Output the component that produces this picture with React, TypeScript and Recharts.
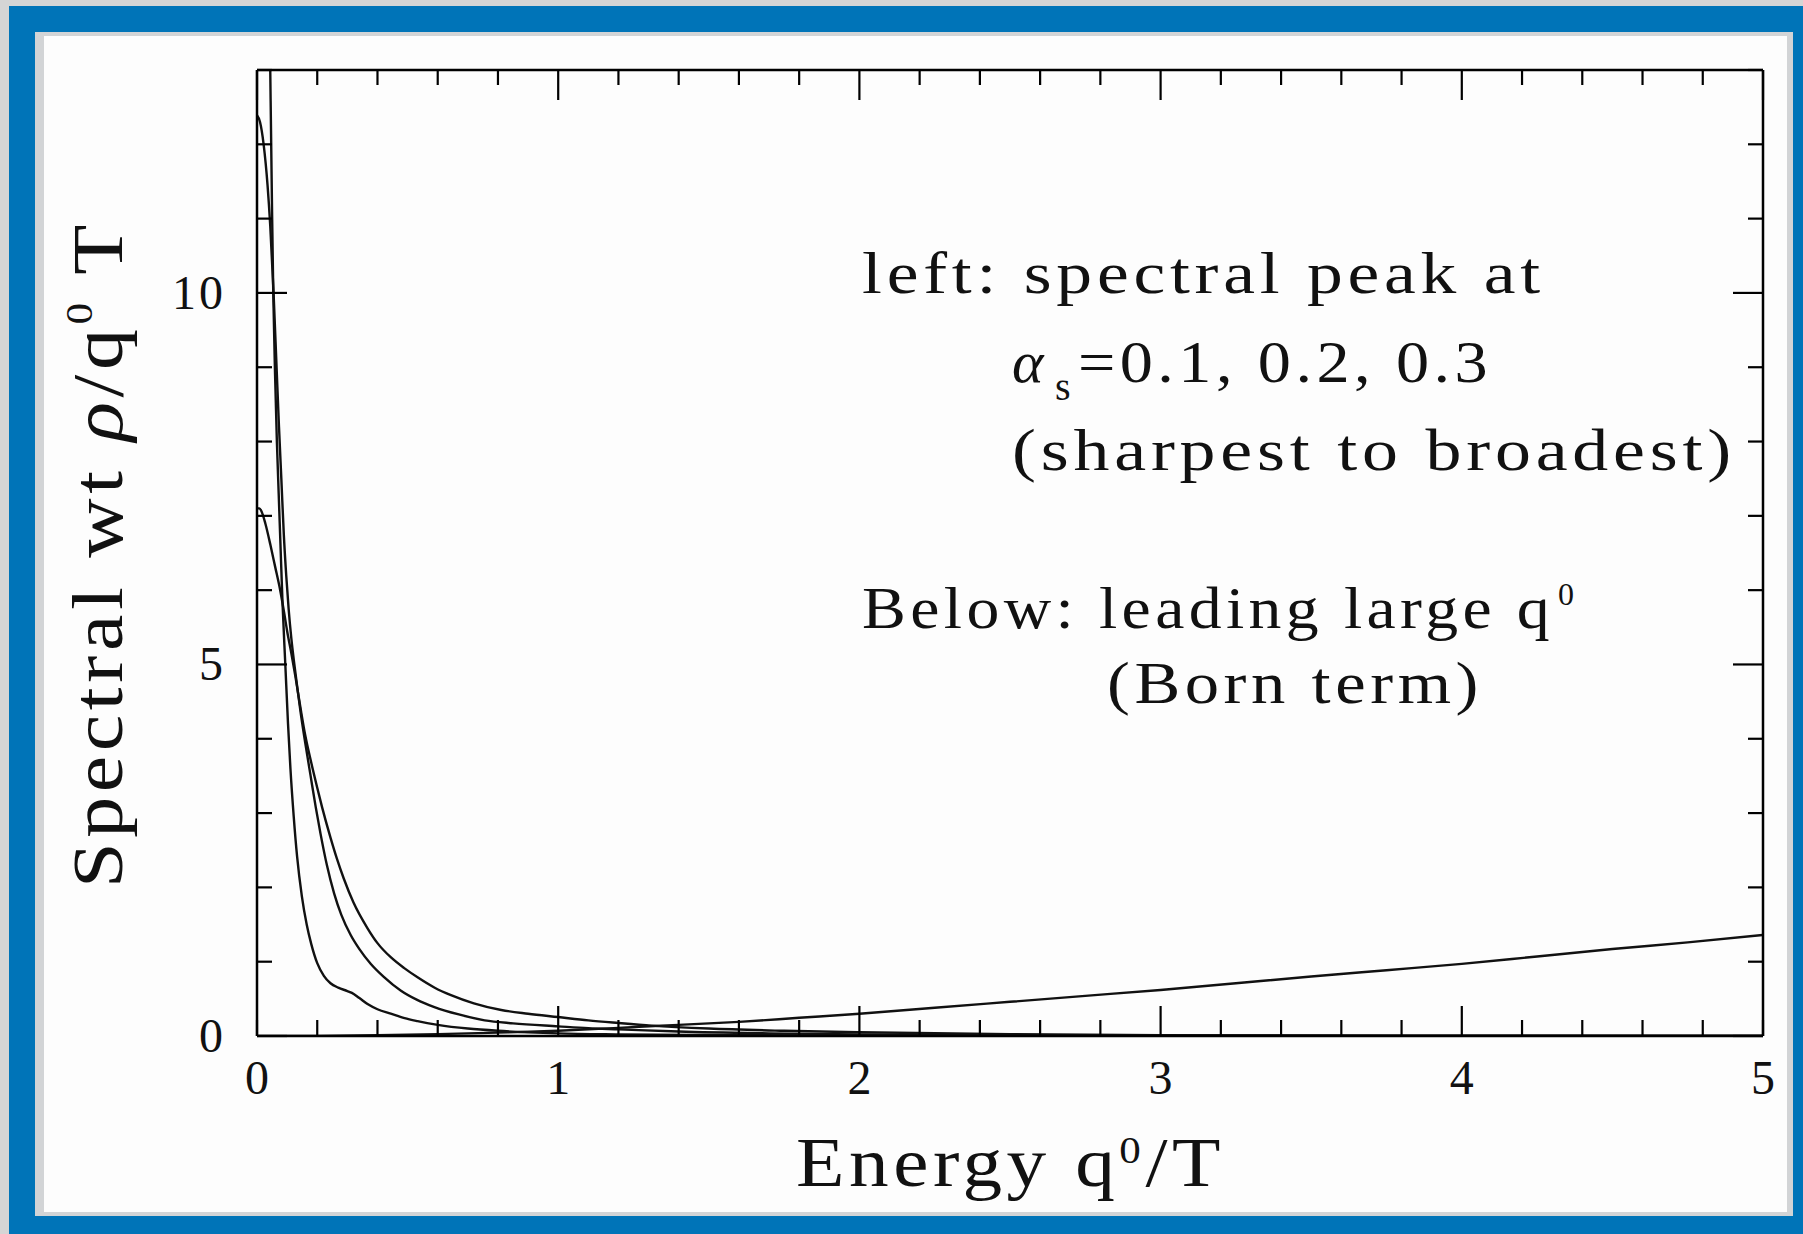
import React from "react";
import { LineChart, Line, XAxis, YAxis } from "recharts";

// Spectral weight curves (x = q0/T, y = rho/q0 T)
const sharpX = [0, 0.02, 0.035, 0.044, 0.05, 0.054, 0.06, 0.066, 0.072, 0.078, 0.085, 0.094, 0.103, 0.111, 0.122, 0.133, 0.149, 0.165, 0.18, 0.2, 0.222, 0.244, 0.27, 0.3, 0.315, 0.34, 0.367, 0.4, 0.444, 0.49, 0.533, 0.6, 0.7, 0.8, 0.9, 1.0, 1.2, 1.5, 2, 2.5, 3, 4, 5];
const sharpY = [30, 22, 16, 13, 11.1, 10, 8.9, 8.0, 7.3, 6.6, 5.8, 5.0, 4.2, 3.6, 2.95, 2.42, 1.88, 1.5, 1.24, 0.98, 0.81, 0.71, 0.65, 0.605, 0.58, 0.51, 0.43, 0.36, 0.3, 0.24, 0.2, 0.15, 0.1, 0.07, 0.05, 0.035, 0.022, 0.013, 0.007, 0.004, 0.002, 0.001, 0];

const midX = [0, 0.01, 0.022, 0.035, 0.044, 0.055, 0.065, 0.073, 0.081, 0.089, 0.097, 0.105, 0.114, 0.124, 0.135, 0.145, 0.16, 0.178, 0.195, 0.211, 0.232, 0.256, 0.28, 0.311, 0.34, 0.378, 0.42, 0.478, 0.53, 0.589, 0.67, 0.756, 0.85, 1.0, 1.1, 1.2, 1.4, 1.7, 2, 2.5, 3, 4, 5];
const midY = [12.39, 12.3, 12.0, 11.45, 10.9, 10.0, 9.0, 8.2, 7.48, 6.75, 6.2, 5.75, 5.35, 5.0, 4.65, 4.35, 3.95, 3.5, 3.08, 2.72, 2.3, 1.92, 1.63, 1.36, 1.17, 0.97, 0.8, 0.61, 0.49, 0.39, 0.29, 0.21, 0.17, 0.13, 0.105, 0.09, 0.06, 0.035, 0.02, 0.01, 0.005, 0.002, 0.001];

const broadX = [0, 0.008, 0.016, 0.0275, 0.045, 0.06, 0.077, 0.09, 0.1, 0.114, 0.127, 0.145, 0.16, 0.18, 0.2, 0.216, 0.244, 0.265, 0.288, 0.32, 0.367, 0.4, 0.444, 0.49, 0.533, 0.59, 0.644, 0.72, 0.811, 0.9, 1.0, 1.1, 1.2, 1.31, 1.5, 1.75, 2, 2.5, 3, 4, 5];
const broadY = [7.1, 7.1, 7.05, 6.9, 6.6, 6.32, 6.0, 5.7, 5.45, 5.15, 4.85, 4.4, 4.05, 3.68, 3.34, 3.08, 2.67, 2.39, 2.12, 1.8, 1.45, 1.25, 1.06, 0.91, 0.79, 0.65, 0.55, 0.44, 0.35, 0.3, 0.255, 0.21, 0.175, 0.14, 0.1, 0.07, 0.05, 0.025, 0.012, 0.004, 0.001];

// leading large q0 (Born term)
const bornX = [0, 0.2, 0.4, 0.6, 0.8, 1.0, 1.2, 1.4, 1.6, 1.8, 2.0, 2.25, 2.5, 2.75, 3.0, 3.25, 3.5, 3.75, 4.0, 4.25, 4.5, 4.75, 5.0];
const bornY = [0, 0.002, 0.01, 0.025, 0.045, 0.07, 0.11, 0.15, 0.19, 0.245, 0.3, 0.38, 0.46, 0.54, 0.62, 0.71, 0.8, 0.885, 0.97, 1.07, 1.17, 1.26, 1.36];

const xTicks = [0, 0.2, 0.4, 0.6, 0.8, 1, 1.2, 1.4, 1.6, 1.8, 2, 2.2, 2.4, 2.6, 2.8, 3, 3.2, 3.4, 3.6, 3.8, 4, 4.2, 4.4, 4.6, 4.8, 5];
const xLabels = [0, 1, 2, 3, 4, 5];
const yTicks = [0, 1, 2, 3, 4, 5, 6, 7, 8, 9, 10, 11, 12, 13];
const yLabels = [0, 5, 10];

const toPoints = (xs: number[], ys: number[]) => xs.map((x, i) => ({ x, y: ys[i] }));

const sharp = toPoints(sharpX, sharpY);
const mid = toPoints(midX, midY);
const broad = toPoints(broadX, broadY);
const born = toPoints(bornX, bornY);

const FONT = '"Liberation Serif", "DejaVu Serif", serif';
const INK = "#111";

const BottomTick = ({ x, y, payload }: any) => {
    const labelled = xLabels.includes(payload.value);
    const len = labelled && payload.value !== 0 && payload.value !== 5 ? 30 : 16;
    return (
        <g>
            <line x1={x} y1={y} x2={x} y2={y - len} stroke="#000" strokeWidth={2.2} />
            {labelled && (
                <text x={x} y={y + 58} textAnchor="middle" fontFamily={FONT} fontSize={48} fill={INK}>
                    {payload.value}
                </text>
            )}
        </g>
    );
};

const TopTick = ({ x, y, payload }: any) => {
    const len = xLabels.includes(payload.value) ? 30 : 15;
    return <line x1={x} y1={y} x2={x} y2={y + len} stroke="#000" strokeWidth={2.2} />;
};

const LeftTick = ({ x, y, payload }: any) => {
    const labelled = yLabels.includes(payload.value);
    const len = labelled ? 30 : 15;
    return (
        <g>
            <line x1={x} y1={y} x2={x + len} y2={y} stroke="#000" strokeWidth={2.2} />
            {labelled && (
                <text x={x - 31} y={y + 16} textAnchor="end" fontFamily={FONT} fontSize={48} letterSpacing={3} fill={INK}>
                    {payload.value}
                </text>
            )}
        </g>
    );
};

const RightTick = ({ x, y, payload }: any) => {
    const len = yLabels.includes(payload.value) ? 30 : 15;
    return <line x1={x} y1={y} x2={x - len} y2={y} stroke="#000" strokeWidth={2.2} />;
};

const frame = { stroke: "#000", strokeWidth: 2.5 };
const stretch = { lengthAdjust: "spacingAndGlyphs", letterSpacing: 4 } as any;

export default function App() {
    return (
        <div style={{ position: "absolute", left: 0, top: 0, width: 1803, height: 1234, background: "#d5d5d5", overflow: "hidden" }}>
            {/* blue frame, grey inner strip, white panel */}
            <div style={{ position: "absolute", left: 9, top: 6, width: 1794, height: 1228, background: "#0074b8" }} />
            <div style={{ position: "absolute", left: 35, top: 32, width: 1758, height: 1184, background: "#d2d4d6" }} />
            <div style={{ position: "absolute", left: 44, top: 36, width: 1743, height: 1176, background: "#fdfdfd" }} />

            <div style={{ position: "absolute", left: 0, top: 0 }}>
                <LineChart width={1803} height={1234} margin={{ top: 69, right: 39, bottom: 197, left: 256 }}>
                    <XAxis
                        xAxisId="x"
                        type="number"
                        dataKey="x"
                        domain={[0, 5]}
                        ticks={xTicks}
                        interval={0}
                        height={1}
                        tickSize={0}
                        tickMargin={0}
                        tickLine={false}
                        tick={(p: any) => <BottomTick {...p} />}
                        axisLine={frame}
                        allowDataOverflow
                    />
                    <XAxis
                        xAxisId="xTop"
                        orientation="top"
                        type="number"
                        dataKey="x"
                        domain={[0, 5]}
                        ticks={xTicks}
                        interval={0}
                        height={1}
                        tickSize={0}
                        tickMargin={0}
                        tickLine={false}
                        tick={(p: any) => <TopTick {...p} />}
                        axisLine={frame}
                        allowDataOverflow
                    />
                    <YAxis
                        yAxisId="y"
                        type="number"
                        domain={[0, 13]}
                        ticks={yTicks}
                        interval={0}
                        width={1}
                        tickSize={0}
                        tickMargin={0}
                        tickLine={false}
                        tick={(p: any) => <LeftTick {...p} />}
                        axisLine={frame}
                        allowDataOverflow
                    />
                    <YAxis
                        yAxisId="yRight"
                        orientation="right"
                        type="number"
                        domain={[0, 13]}
                        ticks={yTicks}
                        interval={0}
                        width={1}
                        tickSize={0}
                        tickMargin={0}
                        tickLine={false}
                        tick={(p: any) => <RightTick {...p} />}
                        axisLine={frame}
                        allowDataOverflow
                    />
                    <Line data={sharp} dataKey="y" xAxisId="x" yAxisId="y" type="monotone" dot={false} stroke={INK} strokeWidth={2.4} isAnimationActive={false} />
                    <Line data={mid} dataKey="y" xAxisId="x" yAxisId="y" type="monotone" dot={false} stroke={INK} strokeWidth={2.4} isAnimationActive={false} />
                    <Line data={broad} dataKey="y" xAxisId="x" yAxisId="y" type="monotone" dot={false} stroke={INK} strokeWidth={2.4} isAnimationActive={false} />
                    {/* the Born term is tied to the mirrored top/right axes (same scales) */}
                    <Line data={born} dataKey="y" xAxisId="xTop" yAxisId="yRight" type="monotone" dot={false} stroke={INK} strokeWidth={2.4} isAnimationActive={false} />
                </LineChart>
            </div>

            {/* axis titles and annotation */}
            <svg width={1803} height={1234} style={{ position: "absolute", left: 0, top: 0, pointerEvents: "none" }} fontFamily={FONT} fill={INK}>
                <text x={796} y={1186} fontSize={70} textLength={429} {...stretch}>
                    Energy q<tspan dy={-23} fontSize={38}>0</tspan>
                    <tspan dy={23}>/T</tspan>
                </text>
                <text transform="translate(122,888) rotate(-90)" x={0} y={0} fontSize={72} textLength={668} {...stretch}>
                    Spectral wt <tspan fontStyle="italic">ρ</tspan>/q<tspan dy={-30} fontSize={38}>0</tspan>
                    <tspan dy={30}> T</tspan>
                </text>

                <text x={862} y={293} fontSize={60} textLength={683} {...stretch}>left: spectral peak at</text>
                <text x={1012} y={382} fontSize={60} fontStyle="italic">α</text>
                <text x={1055} y={400} fontSize={40}>s</text>
                <text x={1078} y={382} fontSize={60} textLength={414} {...stretch}>=0.1, 0.2, 0.3</text>
                <text x={1012} y={470} fontSize={60} textLength={724} {...stretch}>(sharpest to broadest)</text>

                <text x={862} y={628} fontSize={60} textLength={692} {...stretch}>Below: leading large q</text>
                <text x={1558} y={605} fontSize={32}>0</text>
                <text x={1107} y={703} fontSize={60} textLength={376} {...stretch}>(Born term)</text>
            </svg>
        </div>
    );
}
